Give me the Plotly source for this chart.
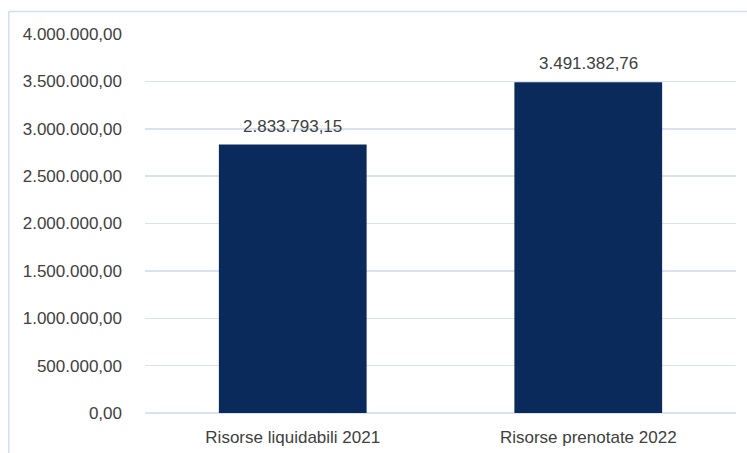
import plotly.graph_objects as go

categories = ["Risorse liquidabili 2021", "Risorse prenotate 2022"]
values = [2833793.15, 3491382.76]
tick_vals = [0, 500000, 1000000, 1500000, 2000000, 2500000, 3000000, 3500000, 4000000]

font_family = "Liberation Sans, Arial, sans-serif"
text_color = "#404040"
grid_color = "#d9e2f0"

fig = go.Figure()
fig.add_trace(go.Bar(
    x=categories, y=values,
    width=0.5,
    marker=dict(color="#0a2a5c", line=dict(width=0)),
    hoverinfo="skip",
))

def fmt(v):
    s = f"{v:,.2f}"
    return s.replace(",", "X").replace(".", ",").replace("X", ".")

for c, v in zip(categories, values):
    fig.add_annotation(x=c, y=v, text=fmt(v), showarrow=False,
                       yanchor="bottom", yshift=7,
                       font=dict(family=font_family, size=17, color=text_color))

W, H = 747, 453
l, r, t, b = 145, 11, 34, 40
pw, ph = W - l - r, H - t - b
px = lambda x: (x - l) / pw
py = lambda y: (H - b - y) / ph
fig.add_shape(type="line", xref="paper", yref="paper",
              x0=px(8.75), x1=px(760), y0=py(11.5), y1=py(11.5),
              line=dict(color="#d3deee", width=1.5))
fig.add_shape(type="line", xref="paper", yref="paper",
              x0=px(8.75), x1=px(8.75), y0=py(11.5), y1=py(470),
              line=dict(color="#d3deee", width=1.5))

fig.update_layout(
    width=W, height=H,
    margin=dict(l=l, r=r, t=t, b=b, autoexpand=False),
    paper_bgcolor="white", plot_bgcolor="white",
    separators=",.",
    showlegend=False,
    hovermode=False,
    font=dict(family=font_family, size=17, color=text_color),
    xaxis=dict(showgrid=False, showline=False, ticks="", automargin=False,
               tickfont=dict(size=17, color=text_color), ticklabelstandoff=12),
    yaxis=dict(range=[0, 4000000], tickvals=tick_vals, tickformat=",.2f",
               automargin=False,
               showgrid=True, gridcolor=grid_color, gridwidth=1.5,
               zeroline=True, zerolinecolor=grid_color, zerolinewidth=1.5,
               showline=False, ticks="", ticklabelstandoff=22,
               tickfont=dict(size=17, color=text_color)),
)

fig.write_html(
    "out.html",
    config={"displayModeBar": False, "staticPlot": True},
    post_script="document.body.style.margin='0';document.body.style.overflow='hidden';",
)
